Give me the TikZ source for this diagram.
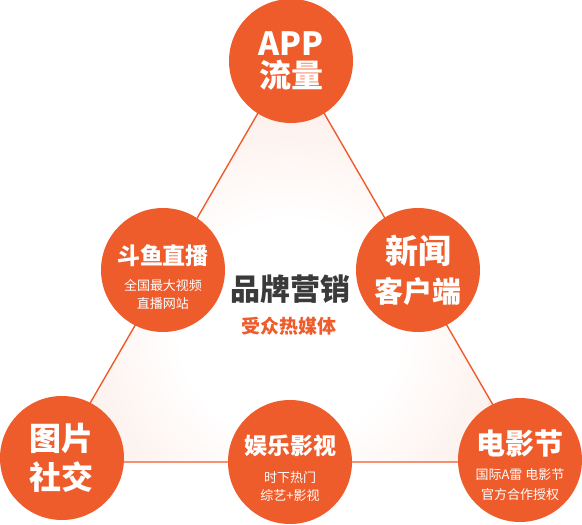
\documentclass[tikz,border=0pt]{standalone}
\usepackage{fontspec}
\setmainfont{Noto Sans CJK SC}
\usetikzlibrary{positioning}
\definecolor{myorange}{RGB}{239,92,44}
\definecolor{mypeach}{RGB}{246,196,178}
\definecolor{mygray}{RGB}{58,58,58}
\pgfdeclareradialshading{glow}{\pgfpoint{0bp}{0bp}}{color(0bp)=(white); color(10bp)=(white); color(50bp)=(mypeach)}
\newcommand{\headfont}[1]{\fontsize{#1}{#1}\bfseries\selectfont}
\newcommand{\notefont}{\fontsize{13}{13}\mdseries\selectfont}

\begin{document}
\begin{tikzpicture}[x=1pt,y=-1pt,
  ball/.style={circle,fill=myorange,minimum size=124pt,inner sep=0pt,text=white,font=\bfseries,align=center},
  balltext/.style={text=white,align=center,inner sep=0pt},
  edge/.style={draw=myorange,line width=1.4pt}
]
\useasboundingbox (0,0) rectangle (582,525);

% the corners of the triangle
\coordinate (top) at (291,56);
\coordinate (left) at (56,462);
\coordinate (right) at (526,462);

% the soft fill and the outline
\begin{scope}
  \clip (top) -- (left) -- (right) -- cycle;
  \shade[shading=glow] (290,330) circle (275pt);
\end{scope}
\draw[edge] (top) -- (left) -- (right) -- cycle;

% the big circles
\node[ball] (app) at (291,61) {\headfont{32}APP\\[4pt]\headfont{32}流量};
\node[ball] (news) at (418,270) {\headfont{33}新闻\\[10pt]\headfont{29}客户端};
\node[ball] (pic) at (62,458) {\headfont{32}图片\\[7pt]\headfont{32}社交};

% the circles with a note
\node[ball] (douyu) at (163,270) {};
\node[ball] (fun) at (290,462) {};
\node[ball] (film) at (520,460) {};
\node[balltext] (douyutxt) at ([yshift=-7pt]douyu.center) {\headfont{23}斗鱼直播\\[12pt]\notefont 全国最大视频\\[5.5pt]\notefont 直播网站};
\node[balltext] (funtxt) at ([yshift=-6pt]fun.center) {\headfont{23}娱乐影视\\[14pt]\notefont 时下热门\\[4.5pt]\notefont 综艺+影视};
\node[balltext] (filmtxt) at ([yshift=-5pt]film.center) {\headfont{29}电影节\\[10pt]\notefont 国际A雷 电影节\\[7pt]\notefont 官方合作授权};

% the centre
\node[font=\bfseries\fontsize{30}{36}\selectfont,text=mygray] (brand) at (290,289) {品牌营销};
\node[font=\bfseries\fontsize{19}{22}\selectfont,text=myorange] (media) at (289,326) {受众热媒体};
\end{tikzpicture}
\end{document}
